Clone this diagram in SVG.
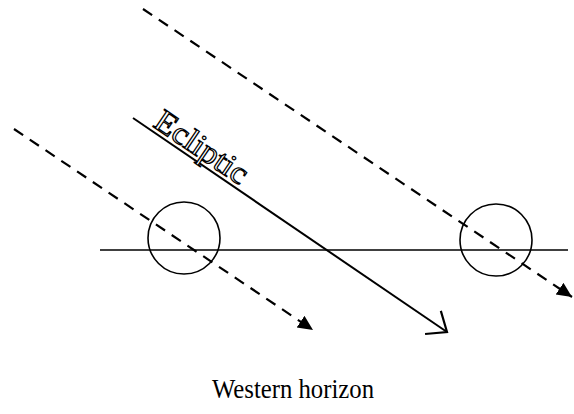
<svg xmlns="http://www.w3.org/2000/svg" width="574" height="414" viewBox="0 0 574 414">
<defs>
<style>
.ln{stroke:#000;stroke-width:2;fill:none}
.dash{stroke:#000;stroke-width:2.2;fill:none;stroke-dasharray:11 8}
.thin{stroke:#000;stroke-width:1.6;fill:none}
.lbl{font-family:"Liberation Serif",serif;fill:#000}
</style>
<marker id="tri" markerUnits="userSpaceOnUse" markerWidth="20" markerHeight="20" refX="15" refY="7" orient="auto" viewBox="0 0 20 20">
<path d="M0,0 L15,7 L0,14 z" fill="#000"/>
</marker>
<marker id="open" markerUnits="userSpaceOnUse" markerWidth="30" markerHeight="40" refX="24" refY="18" orient="auto" viewBox="0 0 30 40">
<path d="M7,4 L24,18 L7,32" fill="none" stroke="#000" stroke-width="2.2"/>
</marker>
</defs>
<g id="horizon">
<line class="thin" x1="100" y1="250" x2="568" y2="250"/>
</g>
<g id="sun-left">
<circle class="thin" cx="184" cy="238" r="36"/>
</g>
<g id="sun-right">
<circle class="thin" cx="496" cy="240" r="36"/>
</g>
<g id="connectors">
<line class="dash" x1="14" y1="129" x2="313" y2="330" marker-end="url(#tri)"/>
<line class="dash" x1="143" y1="9" x2="572" y2="297" marker-end="url(#tri)"/>
<line class="ln" x1="133" y1="118" x2="447" y2="332" marker-end="url(#open)"/>
</g>
<g id="ecliptic-label">
<text class="lbl" transform="translate(152,126) rotate(34.2)" font-size="32" stroke="#000" stroke-width="1.2" textLength="106" lengthAdjust="spacingAndGlyphs" style="fill:#fff">Ecliptic</text>
</g>
<g id="western-label">
<text class="lbl" x="212" y="398" font-size="28" textLength="162" lengthAdjust="spacingAndGlyphs">Western horizon</text>
</g>
</svg>
